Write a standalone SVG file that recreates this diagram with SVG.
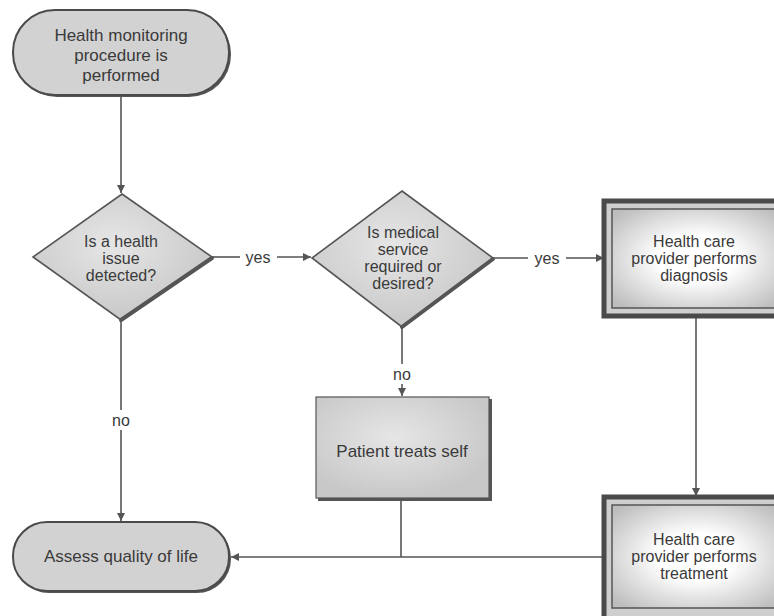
<svg xmlns="http://www.w3.org/2000/svg" width="774" height="616" viewBox="0 0 774 616">
<style>
text{font-family:"Liberation Sans",Arial,sans-serif;font-size:16px;fill:#3a3a3a;text-anchor:middle}
.big{font-size:17px}
.ln{stroke:#555;stroke-width:1.6;fill:none}
.pill{fill:#d2d2d2;stroke:#4a4a4a;stroke-width:2}
.dia{fill:url(#dg);stroke:#555;stroke-width:1.6}
.sh{stroke:#555;stroke-width:4;fill:none;stroke-linecap:round}
</style>
<defs>
<marker id="ah" viewBox="0 0 10 10" refX="10" refY="5" markerWidth="8" markerHeight="8" orient="auto" markerUnits="userSpaceOnUse"><path d="M0,0L10,5L0,10z" fill="#555"/></marker>
<radialGradient id="dg" cx="0.45" cy="0.4" r="0.6"><stop offset="0" stop-color="#e6e6e6"/><stop offset="1" stop-color="#c8c8c8"/></radialGradient>
<radialGradient id="bg" cx="0.5" cy="0.5" r="0.65"><stop offset="0.35" stop-color="#ffffff"/><stop offset="1" stop-color="#bdbdbd"/></radialGradient>
</defs>
<g id="connectors">
<line class="ln" x1="121" y1="97" x2="121" y2="193" marker-end="url(#ah)"/>
<line class="ln" x1="212" y1="257" x2="240" y2="257"/>
<line class="ln" x1="277" y1="257" x2="311" y2="257" marker-end="url(#ah)"/>
<text x="258" y="263">yes</text>
<line class="ln" x1="493" y1="258" x2="528" y2="258"/>
<line class="ln" x1="566" y1="258" x2="604" y2="258" marker-end="url(#ah)"/>
<text x="547" y="264">yes</text>
<line class="ln" x1="121" y1="320" x2="121" y2="410"/>
<line class="ln" x1="121" y1="430" x2="121" y2="521" marker-end="url(#ah)"/>
<text x="121" y="426">no</text>
<line class="ln" x1="402" y1="327" x2="402" y2="364"/>
<line class="ln" x1="402" y1="384" x2="402" y2="396" marker-end="url(#ah)"/>
<text x="402" y="380">no</text>
<line class="ln" x1="696" y1="316" x2="696" y2="496" marker-end="url(#ah)"/>
<line class="ln" x1="401" y1="500" x2="401" y2="557"/>
<line class="ln" x1="605" y1="557" x2="231" y2="557" marker-end="url(#ah)"/>
</g>
<g id="start">
<rect x="15" y="12" width="216" height="85" rx="42" fill="#555"/>
<rect class="pill" x="13" y="10" width="216" height="85" rx="42"/>
<text class="big" x="121" y="41">Health monitoring</text>
<text class="big" x="121" y="61">procedure is</text>
<text class="big" x="121" y="81">performed</text>
</g>
<g id="decision1">
<polygon class="dia" points="122,194 212,257 121,320 33,257"/>
<polyline class="sh" points="212,258 121,320"/>
<text x="121" y="247">Is a health</text>
<text x="121" y="264">issue</text>
<text x="121" y="281">detected?</text>
</g>
<g id="decision2">
<polygon class="dia" points="402,191 493,258 402,327 312,258"/>
<polyline class="sh" points="493,259 402,327"/>
<text x="403" y="238">Is medical</text>
<text x="403" y="255">service</text>
<text x="403" y="272">required or</text>
<text x="403" y="289">desired?</text>
</g>
<g id="diagnosis">
<rect x="604" y="201" width="176" height="115" fill="#cfcfcf" stroke="#4a4a4a" stroke-width="5"/>
<rect x="612" y="209" width="170" height="99" fill="url(#bg)" stroke="#555" stroke-width="1.5"/>
<text x="694" y="247">Health care</text>
<text x="694" y="264">provider performs</text>
<text x="694" y="281">diagnosis</text>
</g>
<g id="treatment">
<rect x="604" y="497" width="176" height="125" fill="#cfcfcf" stroke="#4a4a4a" stroke-width="5"/>
<rect x="612" y="505" width="170" height="103" fill="url(#bg)" stroke="#555" stroke-width="1.5"/>
<text x="694" y="545">Health care</text>
<text x="694" y="562">provider performs</text>
<text x="694" y="579">treatment</text>
</g>
<g id="selfcare">
<rect x="318" y="399" width="174" height="102" fill="#555"/>
<rect x="316" y="397" width="173" height="101" fill="url(#dg)" stroke="#555" stroke-width="1.2"/>
<text class="big" x="402" y="457">Patient treats self</text>
</g>
<g id="assess">
<rect x="15" y="524" width="216" height="69" rx="34" fill="#555"/>
<rect class="pill" x="13" y="522" width="216" height="69" rx="34"/>
<text class="big" x="121" y="562">Assess quality of life</text>
</g>
</svg>
